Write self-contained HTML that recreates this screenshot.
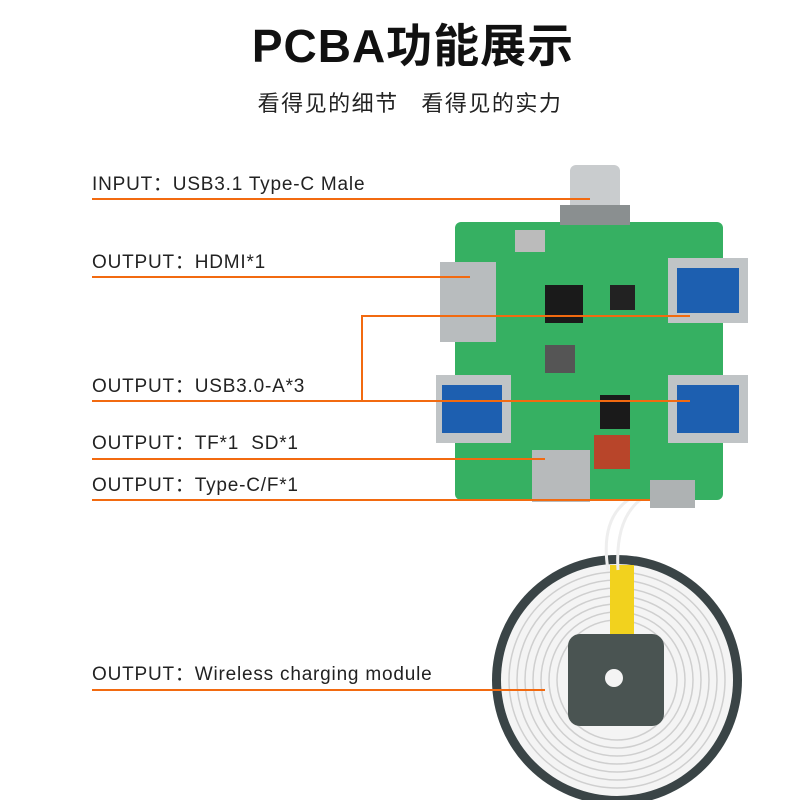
<!DOCTYPE html>
<html><head><meta charset="utf-8"><style>
html,body{margin:0;padding:0;background:#fff;}
body{width:800px;height:800px;position:relative;overflow:hidden;font-family:"Liberation Sans","Noto Sans CJK SC",sans-serif;}
.t{position:absolute;left:0;width:800px;text-align:center;}
.lab{position:absolute;left:92px;font-size:19px;color:#222;white-space:nowrap;letter-spacing:0.8px;}
</style></head><body>
<div class="t" style="top:10px;font-size:46px;font-weight:bold;color:#111;letter-spacing:1px;padding-left:26px;box-sizing:border-box;">PCBA功能展示</div>
<div class="t" style="top:86px;font-size:22px;color:#222;letter-spacing:1.5px;padding-left:20px;box-sizing:border-box;">看得见的细节&nbsp;&nbsp;&nbsp;看得见的实力</div>
<svg width="800" height="800" style="position:absolute;left:0;top:0">
 <circle cx="617" cy="680" r="125" fill="#3a4446"/>
 <circle cx="617" cy="680" r="116" fill="#f4f4f4"/>
 <g fill="none" stroke="#cfcfcf" stroke-width="1.5">
  <circle cx="617" cy="680" r="108"/><circle cx="617" cy="680" r="100"/><circle cx="617" cy="680" r="92"/>
  <circle cx="617" cy="680" r="84"/><circle cx="617" cy="680" r="76"/><circle cx="617" cy="680" r="68"/><circle cx="617" cy="680" r="60"/>
 </g>
 <rect x="610" y="565" width="24" height="70" fill="#f2d21e"/>
 <rect x="568" y="634" width="96" height="92" rx="12" fill="#4a5452"/>
 <circle cx="614" cy="678" r="9" fill="#f4f4f4"/>
 <path d="M608 570 Q600 520 628 500 M618 570 Q615 520 640 500" stroke="#eee" stroke-width="3" fill="none"/>
 <rect x="455" y="222" width="268" height="278" rx="6" fill="#36b062"/>
 <rect x="570" y="165" width="50" height="58" rx="6" fill="#c9ccce"/>
 <rect x="560" y="205" width="70" height="20" fill="#8a8f90"/>
 <rect x="440" y="262" width="56" height="80" fill="#b8bcbe"/>
 <rect x="668" y="258" width="80" height="65" fill="#c0c4c6"/>
 <rect x="677" y="268" width="62" height="45" fill="#1d5fb0"/>
 <rect x="668" y="375" width="80" height="68" fill="#c0c4c6"/>
 <rect x="677" y="385" width="62" height="48" fill="#1d5fb0"/>
 <rect x="436" y="375" width="75" height="68" fill="#c0c4c6"/>
 <rect x="442" y="385" width="60" height="48" fill="#1d5fb0"/>
 <rect x="532" y="450" width="58" height="52" fill="#b7babb"/>
 <rect x="594" y="435" width="36" height="34" fill="#b8452a"/>
 <rect x="545" y="285" width="38" height="38" fill="#1a1a1a"/>
 <rect x="545" y="345" width="30" height="28" fill="#555"/>
 <rect x="600" y="395" width="30" height="34" fill="#1a1a1a"/>
 <rect x="610" y="285" width="25" height="25" fill="#222"/>
 <rect x="515" y="230" width="30" height="22" fill="#bbb"/>
 <rect x="650" y="480" width="45" height="28" fill="#aeb2b3"/>
 <g stroke="#f26a10" stroke-width="2" fill="none">
  <line x1="92" y1="199" x2="590" y2="199"/>
  <line x1="92" y1="277" x2="470" y2="277"/>
  <line x1="92" y1="401" x2="690" y2="401"/>
  <polyline points="362,401 362,316 690,316"/>
  <line x1="92" y1="459" x2="545" y2="459"/>
  <line x1="92" y1="500" x2="650" y2="500"/>
  <line x1="92" y1="690" x2="545" y2="690"/>
 </g>
</svg>
<div class="lab" style="top:169px">INPUT：USB3.1 Type-C Male</div>
<div class="lab" style="top:247px">OUTPUT：HDMI*1</div>
<div class="lab" style="top:371px">OUTPUT：USB3.0-A*3</div>
<div class="lab" style="top:428px">OUTPUT：TF*1&nbsp;&nbsp;SD*1</div>
<div class="lab" style="top:470px">OUTPUT：Type-C/F*1</div>
<div class="lab" style="top:659px">OUTPUT：Wireless charging module</div>
</body></html>
